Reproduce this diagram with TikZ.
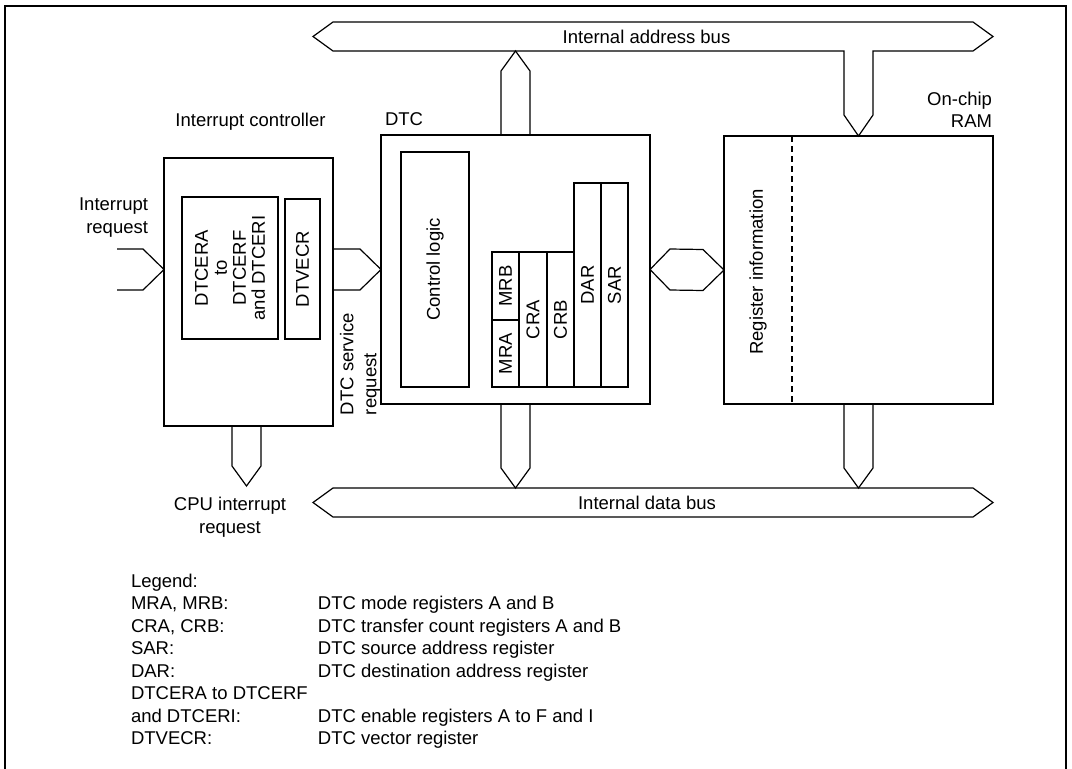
\documentclass[tikz,border=0pt]{standalone}
\usepackage{fontspec}
\setmainfont{Liberation Sans}
\usetikzlibrary{calc,positioning}

\begin{document}
\begin{tikzpicture}[x=1pt, y=-1pt, font=\fontsize{18.5}{23}\selectfont]

 \tikzset{
   blk/.style={draw=black, line width=2.4pt, inner sep=0pt, outer sep=0pt},
   regbox/.style 2 args={blk, rotate=90, minimum width=#2, minimum height=#1, align=center},
   txt/.style={inner sep=0pt, outer sep=0pt, align=center},
   bus/.style={draw=black, line width=1.2pt, line join=miter},
   frame/.style={draw=black, line width=2.6pt}
 }

 % Bus levels
 \def\abTop{22}  \def\abBot{51}  \def\abMid{36.5}
 \def\dbTop{488} \def\dbBot{517} \def\dbMid{502.5}
 \def\busL{333}  \def\busR{973}
 \def\tip{20}

 \useasboundingbox (0,0) rectangle (1072,769);
 \draw[frame] (5,769) -- (5,6) -- (1066,6) -- (1066,769);

 % Interrupt controller
 \node[blk, minimum width=169, minimum height=268] (ic) at (248.5,292) {};
 \node[regbox={96}{142}, font=\fontsize{18.5}{19}\selectfont] (dtcera) at (230,268) {DTCERA\\to\\DTCERF\\and DTCERI};
 \node[regbox={35}{140}] (dtvecr) at (302.5,269) {DTVECR};

 % DTC
 \node[blk, minimum width=269, minimum height=269] (dtc) at (515.5,269.5) {};
 \node[regbox={68}{235}] (ctrl) at (435,269.5) {Control logic};
 \node[regbox={27}{68}] (mrb) at (505.5,286) {MRB};
 \node[regbox={27}{67}] (mra) at (505.5,353.5) {MRA};
 \node[regbox={28}{135}] (cra) at (533,319.5) {CRA};
 \node[regbox={27}{135}] (crb) at (560.5,319.5) {CRB};
 \node[regbox={27}{204}] (dar) at (587.5,285) {DAR};
 \node[regbox={27}{204}] (sar) at (614.5,285) {SAR};

 % On-chip RAM
 \node[blk, minimum width=269, minimum height=268] (ram) at (858.5,270) {};
 \draw[line width=1.2pt, dash pattern=on 6pt off 4pt] ($(ram.north west)+(68,0)$) -- ($(ram.south west)+(68,0)$);
 \node[txt, rotate=90] (reginfo) at (758,272) {Register information};

 % Labels (multi-line ones sit on their last baseline)
 \node[txt, anchor=base] (iclbl) at (250.5,126) {Interrupt controller};
 \node[txt, anchor=base west] (dtclbl) at (385,125) {DTC};
 \node[txt, anchor=base east, align=right, font=\fontsize{18.5}{22}\selectfont] (ramlbl) at (992,127) {On-chip\\RAM};
 \node[txt, anchor=base east, align=right] (irqlbl) at (148,233) {Interrupt\\request};
 \node[txt, anchor=base] (cpulbl) at (230,533) {CPU interrupt\\request};
 \node[txt, rotate=90, anchor=west, align=left] (dtcreq) at (360,415) {DTC service\\request};

 % Buses
 \coordinate (ramL) at ($(ram.north)+(-14.5,-21)$);
 \coordinate (ramR) at ($(ram.north)+(14.5,-21)$);
 \draw[bus] (ramL |- 0,\abBot) -- (\busL,\abBot) -- (\busL-\tip,\abMid) -- (\busL,\abTop)
   -- (\busR,\abTop) -- (\busR+\tip,\abMid) -- (\busR,\abBot) -- (ramR |- 0,\abBot)
   -- (ramR) -- (ram.north) -- (ramL) -- cycle;
 \node[txt, anchor=base] (abuslbl) at (646.5,43) {Internal address bus};

 \draw[bus] (\busL,\dbTop) -- (\busR,\dbTop) -- (\busR+\tip,\dbMid) -- (\busR,\dbBot)
   -- (\busL,\dbBot) -- (\busL-\tip,\dbMid) -- cycle;
 \node[txt, anchor=base] (dbuslbl) at (647,509) {Internal data bus};

 % Stubs
 \draw[bus] ($(dtc.north)+(-14.5,0)$) -- ($(dtc.north)+(-14.5,-64)$) -- (dtc.north |- 0,\abBot)
   -- ($(dtc.north)+(14.5,-64)$) -- ($(dtc.north)+(14.5,0)$);
 \draw[bus] ($(dtc.south)+(-14.5,0)$) -- ($(dtc.south)+(-14.5,64)$) -- (dtc.south |- 0,\dbTop)
   -- ($(dtc.south)+(14.5,64)$) -- ($(dtc.south)+(14.5,0)$);
 \draw[bus] ($(ram.south)+(-14.5,0)$) -- ($(ram.south)+(-14.5,64)$) -- (ram.south |- 0,\dbTop)
   -- ($(ram.south)+(14.5,64)$) -- ($(ram.south)+(14.5,0)$);
 \coordinate (cpuirq) at ($(ic.south)+(-2,60)$);
 \draw[bus] ($(ic.south)+(-16.5,0)$) -- ($(cpuirq)+(-14.5,-20)$) -- (cpuirq)
   -- ($(cpuirq)+(14.5,-20)$) -- ($(ic.south)+(12.5,0)$);

 % Requests
 \coordinate (icin) at (ic.west |- dtc.west);
 \coordinate (irq) at (117,269.5);
 \draw[bus] (irq |- 0,249) -- ($(icin)+(-21,-20.5)$) -- (icin) -- ($(icin)+(-21,20.5)$) -- (irq |- 0,290);
 \draw[bus] (ic.east |- 0,249) -- ($(dtc.west)+(-21,-20.5)$) -- (dtc.west)
   -- ($(dtc.west)+(-21,20.5)$) -- (ic.east |- 0,290);
 \draw[bus] (dtc.east) -- ($(dtc.east)+(20,-20.5)$) -- ($(ram.west)+(-21,-20.5)$) -- (ram.west)
   -- ($(ram.west)+(-21,20.5)$) -- ($(dtc.east)+(20,20.5)$) -- cycle;

 % Legend
 \node[txt, anchor=base west, align=left, font=\fontsize{18.5}{22.57}\selectfont] (legend) at (131,587) {%
   \begin{tabular}[t]{@{}p{187pt}@{}l@{}}
   Legend: & \\
   MRA, MRB: & DTC mode registers A and B\\
   CRA, CRB: & DTC transfer count registers A and B\\
   SAR: & DTC source address register\\
   DAR: & DTC destination address register\\
   DTCERA to DTCERF & \\
   and DTCERI: & DTC enable registers A to F and I\\
   DTVECR: & DTC vector register
   \end{tabular}};

\end{tikzpicture}
\end{document}
